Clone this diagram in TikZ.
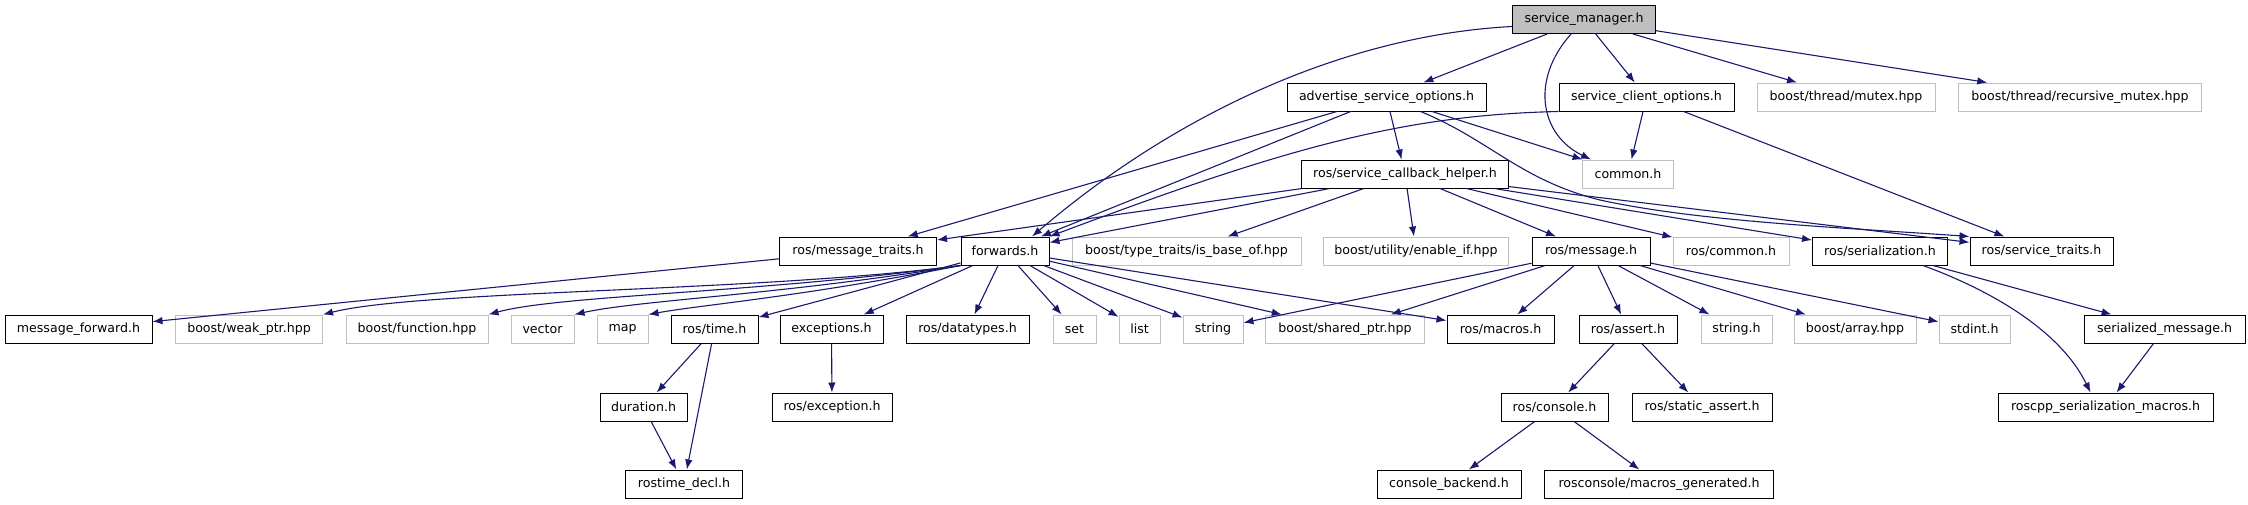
\documentclass[tikz,border=0pt]{standalone}
\usepackage{fontspec}
\setmainfont{DejaVu Sans}
\usetikzlibrary{positioning}
\usetikzlibrary{calc}
\usetikzlibrary{arrows.meta}
\definecolor{edgeblue}{HTML}{191970}
\definecolor{extgray}{HTML}{BFBFBF}

\begin{document}
\begin{tikzpicture}[x=1pt,y=-1pt]
\tikzstyle{file} =[rectangle,draw=black,line width=1pt,minimum height=28pt,inner sep=2pt,font=\fontsize{12.6}{15}\selectfont]
\tikzstyle{extern} =[file,draw=extgray]
\tikzstyle{root} =[file,fill=extgray]
\tikzstyle{dep} =[draw=edgeblue,line width=1.1pt,-{Latex[length=10pt,width=7.5pt]}]
\useasboundingbox (0,0) rectangle (2248,504);

\node[root,minimum width=143pt](mgr) at (1584,19.5){service\_manager.h};

\node[file,minimum width=199pt](adv) at (1386.5,97){advertise\_service\_options.h};
\node[file,minimum width=175pt](client) at (1646.5,97){service\_client\_options.h};
\node[extern,minimum width=178pt](mutex) at (1846,97){boost/thread/mutex.hpp};
\node[extern,minimum width=243pt](rmutex) at (2080,97){boost/thread/recursive\_mutex.hpp};

\node[file,minimum width=207pt](helper) at (1405,174){ros/service\_callback\_helper.h};
\node[extern,minimum width=91pt](common) at (1628,174){common.h};

\node[file,minimum width=157pt](mtraits) at (858,251){ros/message\_traits.h};
\node[file,minimum width=88pt](fwd) at (1005,251){forwards.h};
\node[extern,minimum width=229pt](isbase) at (1186.5,251){boost/type\_traits/is\_base\_of.hpp};
\node[extern,minimum width=185pt](enableif) at (1416,251){boost/utility/enable\_if.hpp};
\node[file,minimum width=118pt](msg) at (1591,251){ros/message.h};
\node[extern,minimum width=116pt](rcommon) at (1731,251){ros/common.h};
\node[file,minimum width=135pt](ser) at (1880,251){ros/serialization.h};
\node[file,minimum width=143pt](straits) at (2041.5,251){ros/service\_traits.h};

\node[file,minimum width=147pt](mfwd) at (78.5,329){message\_forward.h};
\node[extern,minimum width=147pt](weakptr) at (249,329){boost/weak\_ptr.hpp};
\node[extern,minimum width=142pt](func) at (417,329){boost/function.hpp};
\node[extern,minimum width=63pt](vector) at (542.5,329){vector};
\node[extern,minimum width=51pt](map) at (622.5,329){map};
\node[file,minimum width=87pt](rtime) at (714.5,329){ros/time.h};
\node[file,minimum width=103pt](exc) at (831.5,329){exceptions.h};
\node[file,minimum width=123pt](dtypes) at (967.5,329){ros/datatypes.h};
\node[extern,minimum width=43pt](set) at (1074.5,329){set};
\node[extern,minimum width=41pt](list) at (1139.5,329){list};
\node[extern,minimum width=60pt](str) at (1213,329){string};
\node[extern,minimum width=159pt](sharedptr) at (1345,329){boost/shared\_ptr.hpp};
\node[file,minimum width=107pt](macros) at (1500.5,329){ros/macros.h};
\node[file,minimum width=98pt](assert) at (1628,329){ros/assert.h};
\node[extern,minimum width=71pt](strh) at (1736.5,329){string.h};
\node[extern,minimum width=122pt](array) at (1855,329){boost/array.hpp};
\node[extern,minimum width=71pt](stdint) at (1974.5,329){stdint.h};
\node[file,minimum width=161pt](sermsg) at (2164.5,329){serialized\_message.h};

\node[file,minimum width=87pt](duration) at (643.5,407){duration.h};
\node[file,minimum width=120pt](rexc) at (832,407){ros/exception.h};
\node[file,minimum width=107pt](console) at (1554.5,407){ros/console.h};
\node[file,minimum width=140pt](sassert) at (1702,407){ros/static\_assert.h};
\node[file,minimum width=215pt](sermacros) at (2105.5,407){roscpp\_serialization\_macros.h};

\node[file,minimum width=117pt](decl) at (684,484){rostime\_decl.h};
\node[file,minimum width=144pt](backend) at (1449,484){console\_backend.h};
\node[file,minimum width=229pt](generated) at (1659,484){rosconsole/macros\_generated.h};

\draw[dep] ([yshift=-7pt]mgr.west) .. controls (1350,35) and (1180,110) .. ([xshift=27pt]fwd.north);
\draw[dep] (mgr)--(adv);
\draw[dep] ([xshift=-13pt]mgr.south) .. controls (1530,80) and (1540,135) .. ([xshift=-37pt]common.north);
\draw[dep] (mgr)--(client);
\draw[dep] (mgr)--(mutex);
\draw[dep] (mgr)--(rmutex);

\draw[dep] (adv)--(mtraits);
\draw[dep] (adv)--(fwd);
\draw[dep] (adv)--(helper);
\draw[dep] (adv)--(common);
\draw[dep] ([xshift=34pt]adv.south) .. controls (1490,140) and (1520,180) .. (1600,200) .. controls (1700,222) and (1850,228) .. (straits.north west);

\draw[dep] (client.south west) .. controls (1400,115) and (1280,150) .. (fwd.north east);
\draw[dep] (client)--(common);
\draw[dep] (client)--(straits);

\draw[dep] (helper)--(mtraits);
\draw[dep] (helper)--(fwd);
\draw[dep] (helper)--(isbase);
\draw[dep] (helper)--(enableif);
\draw[dep] (helper)--(msg);
\draw[dep] (helper)--(rcommon);
\draw[dep] (helper)--(ser);
\draw[dep] (helper)--(straits);

\draw[dep] (mtraits)--(mfwd);

\draw[dep] (fwd.south west) .. controls (760,292) and (420,290) .. (weakptr.north east);
\draw[dep] (fwd.south west) .. controls (760,293) and (560,295) .. (func.north east);
\draw[dep] (fwd.south west) .. controls (780,295) and (640,300) .. (vector.north east);
\draw[dep] (fwd.south west) .. controls (800,297) and (700,305) .. (map.north east);
\draw[dep] (fwd)--(rtime);
\draw[dep] (fwd)--(exc);
\draw[dep] (fwd)--(dtypes);
\draw[dep] (fwd)--(set);
\draw[dep] (fwd)--(list);
\draw[dep] (fwd)--(str);
\draw[dep] (fwd)--(sharedptr);
\draw[dep] (fwd)--(macros);

\draw[dep] (msg)--(str);
\draw[dep] (msg)--(sharedptr);
\draw[dep] (msg)--(macros);
\draw[dep] (msg)--(assert);
\draw[dep] (msg)--(strh);
\draw[dep] (msg)--(array);
\draw[dep] (msg)--(stdint);

\draw[dep] (ser)--(sermsg);
\draw[dep] ([xshift=43pt]ser.south) .. controls (1990,290) and (2060,330) .. ([xshift=-15pt]sermacros.north);
\draw[dep] (sermsg)--(sermacros);

\draw[dep] (rtime)--(duration);
\draw[dep] (rtime)--(decl);
\draw[dep] (duration)--(decl);
\draw[dep] (exc)--(rexc);
\draw[dep] (assert)--(console);
\draw[dep] (assert)--(sassert);
\draw[dep] (console)--(backend);
\draw[dep] (console)--(generated);
\end{tikzpicture}
\end{document}
